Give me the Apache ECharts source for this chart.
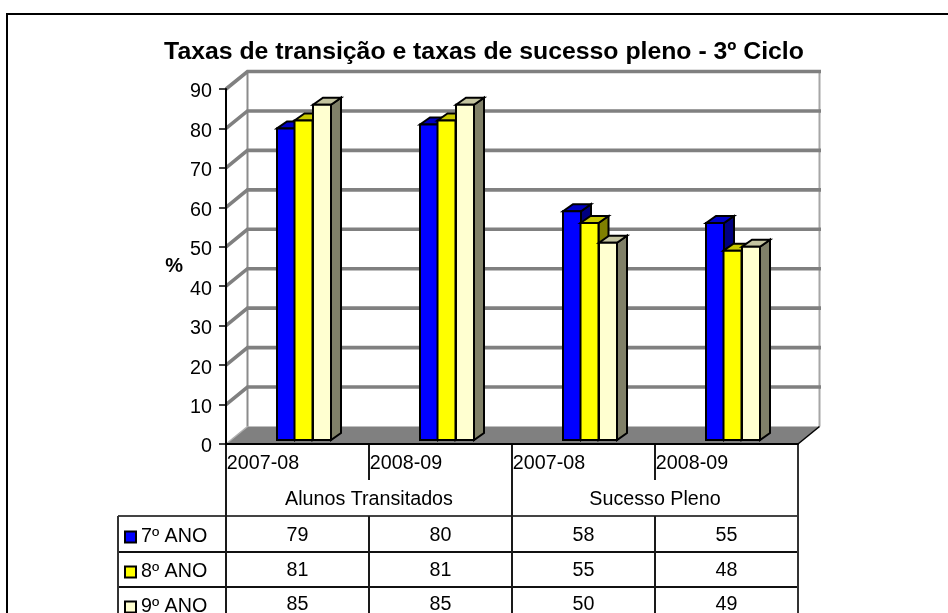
<!DOCTYPE html>
<html>
<head>
<meta charset="utf-8">
<title>Taxas de transição</title>
<script src="https://cdn.jsdelivr.net/npm/echarts@6/dist/echarts.min.js"></script>
<style>
html,body{margin:0;padding:0;background:#fff;}
#main{width:948px;height:613px;}
</style>
</head>
<body>
<div id="main"></div>
<script type="text/javascript">
var categories = ['2007-08', '2008-09', '2007-08', '2008-09'];
var groups = ['Alunos Transitados', 'Sucesso Pleno'];
var serieNames = ['7º ANO', '8º ANO', '9º ANO'];
var ano7 = [79, 80, 58, 55];
var ano8 = [81, 81, 55, 48];
var ano9 = [85, 85, 50, 49];
var yTicks = [0, 10, 20, 30, 40, 50, 60, 70, 80, 90];

var fontName = '"Liberation Sans", Arial, sans-serif';
var textSize = 19.7;
// profundidade da parede e das barras
var wallDx = 21.5, wallDy = -17.5;
var barDx = 10, barDy = -7, barW = 18, planeDx = 0, planeDy = -4;
var barLeft = [-20.5, -3, 15.5];
var barColors = [
	{front: '#0000ff', top: '#0000c4', side: '#000080'},
	{front: '#ffff00', top: '#c8c800', side: '#808000'},
	{front: '#ffffd0', top: '#c4c4a0', side: '#808068'}
];

function toData(arr) {
	return arr.map(function (v, i) { return [i, v]; });
}

function renderWall(params, api) {
	var p = api.coord([0, api.value(1)]);
	var band = api.size([1, 0])[0];
	var x0 = p[0] - band / 2;
	var x1 = x0 + band * categories.length;
	return {
		type: 'polyline',
		shape: {points: [[x0, p[1]], [x0 + wallDx, p[1] + wallDy], [x1 + wallDx + 1.5, p[1] + wallDy]]},
		style: {stroke: '#808080', lineWidth: 3.6, fill: null}
	};
}

function renderFloor(params, api) {
	var p = api.coord([0, 0]);
	var top = api.coord([0, 90]);
	var band = api.size([1, 0])[0];
	var x0 = p[0] - band / 2;
	var x1 = x0 + band * categories.length;
	return {
		type: 'group',
		children: [
			{type: 'polyline', shape: {points: [[x0 + wallDx, top[1] + wallDy], [x0 + wallDx, p[1] + wallDy]]},
				style: {stroke: '#8c8c8c', lineWidth: 2, fill: null}},
			{type: 'polyline', shape: {points: [[x1 + wallDx, top[1] + wallDy], [x1 + wallDx, p[1] + wallDy]]},
				style: {stroke: '#a6a6a6', lineWidth: 2, fill: null}},
			{type: 'polygon', shape: {points: [[x0, p[1]], [x0 + wallDx, p[1] + wallDy], [x1 + wallDx, p[1] + wallDy], [x1, p[1]]]},
				style: {fill: '#808080'}},
			{type: 'polyline', shape: {points: [[x0, p[1]], [x0 + wallDx, p[1] + wallDy]]},
				style: {stroke: '#b0b0b0', lineWidth: 1.5, fill: null}},
			{type: 'polyline', shape: {points: [[x1, p[1]], [x1 + wallDx, p[1] + wallDy]]},
				style: {stroke: '#000', lineWidth: 1.5, fill: null}}
		]
	};
}

function renderBar(serieIndex) {
	return function (params, api) {
		var base = api.coord([api.value(0), 0]);
		var head = api.coord([api.value(0), api.value(1)]);
		var c = barColors[serieIndex];
		var x = base[0] + barLeft[serieIndex] + planeDx;
		var y0 = base[1] + planeDy, y1 = head[1] + planeDy;
		var x2 = x + barW;
		var line = {stroke: '#000', lineWidth: 2, lineJoin: 'miter'};
		return {
			type: 'group',
			children: [
				{type: 'polygon', shape: {points: [[x2, y1], [x2 + barDx, y1 + barDy], [x2 + barDx, y0 + barDy], [x2, y0]]},
					style: echarts.util.extend({fill: c.side}, line)},
				{type: 'polygon', shape: {points: [[x, y1], [x + barDx, y1 + barDy], [x2 + barDx, y1 + barDy], [x2, y1]]},
					style: echarts.util.extend({fill: c.top}, line)},
				{type: 'rect', shape: {x: x, y: y1, width: barW, height: y0 - y1},
					style: echarts.util.extend({fill: c.front}, line)}
			]
		};
	};
}

// tabela de dados por baixo do grafico
var rowLines = [72, 108, 143];
var rowText = [92, 127, 161];
var tableLeft = 118;
var tableBottom = 613;

function renderTable(params, api) {
	var p = api.coord([0, 0]);
	var band = api.size([1, 0])[0];
	var x0 = p[0] - band / 2;
	var y = p[1];
	var kids = [];
	function seg(a, b, c, d, color) {
		kids.push({type: 'line', shape: {x1: a, y1: b, x2: c, y2: d},
			style: {stroke: color || '#1a1a1a', lineWidth: 2}});
	}
	function txt(s, tx, ty) {
		kids.push({type: 'text', style: {text: s, x: tx, y: ty, align: 'center', verticalAlign: 'middle',
			fontFamily: fontName, fontSize: textSize, fill: '#000'}});
	}
	var i;
	for (i = 0; i < rowLines.length; i++) {
		seg(tableLeft, y + rowLines[i], x0 + band * categories.length, y + rowLines[i], i === 0 ? '#444' : '#111');
	}
	seg(tableLeft, y + rowLines[0], tableLeft, tableBottom, '#333');
	seg(x0, y, x0, tableBottom);
	seg(x0 + band * 2, y, x0 + band * 2, tableBottom);
	seg(x0 + band * 4, y, x0 + band * 4, tableBottom, '#333');
	[1, 3].forEach(function (k) {
		seg(x0 + band * k, y, x0 + band * k, y + 36);
		seg(x0 + band * k, y + rowLines[0], x0 + band * k, tableBottom);
	});
	groups.forEach(function (g, k) {
		txt(g, x0 + band * (k * 2 + 1), y + 56);
	});
	[ano7, ano8, ano9].forEach(function (row, r) {
		row.forEach(function (v, k) {
			txt(String(v), x0 + band * (k + 0.5), y + rowText[r]);
		});
	});
	return {type: 'group', children: kids};
}

var series = [
	{type: 'custom', name: 'paredes', z: 1, silent: true, renderItem: renderFloor, data: [[0, 0]], encode: {x: 0, y: 1}},
	{type: 'custom', name: 'grelha', z: 2, silent: true, renderItem: renderWall,
		data: yTicks.slice(1).map(function (t) { return [0, t]; }), encode: {x: 0, y: 1}},
	{type: 'custom', name: 'tabela', z: 3, silent: true, renderItem: renderTable, data: [[0, 0]], encode: {x: 0, y: 1}}
];
[ano7, ano8, ano9].forEach(function (arr, i) {
	series.push({
		type: 'custom',
		name: serieNames[i],
		z: 6 + i,
		renderItem: renderBar(i),
		data: toData(arr),
		encode: {x: 0, y: 1},
		itemStyle: {color: barColors[i].front, borderColor: '#000', borderWidth: 1}
	});
});

var myChart = echarts.init(document.getElementById('main'));
var option = {
	animation: false,
	backgroundColor: '#fff',
	title: {
		text: 'Taxas de transição e taxas de sucesso pleno - 3º Ciclo',
		left: 479,
		top: 35,
		textAlign: 'center',
		textStyle: {fontFamily: fontName, fontSize: 24.8, fontWeight: 'bold', color: '#000'}
	},
	legend: {
		data: serieNames,
		orient: 'vertical',
		left: 124,
		top: 527,
		height: 140,
		padding: 0,
		itemWidth: 11,
		itemHeight: 11,
		itemGap: 15,
		icon: 'rect',
		selectedMode: false,
		textStyle: {fontFamily: fontName, fontSize: textSize, color: '#000'}
	},
	grid: {left: 226, top: 89, width: 572, height: 355},
	xAxis: {
		type: 'category',
		data: categories,
		boundaryGap: true,
		z: 4,
		axisLine: {show: true, lineStyle: {color: '#000', width: 2}},
		axisTick: {show: false},
		axisLabel: {
			interval: 0,
			margin: 10,
			align: 'center',
			padding: [0, 69, 0, 0],
			fontFamily: fontName,
			fontSize: textSize,
			color: '#000'
		}
	},
	yAxis: {
		type: 'value',
		min: 0,
		max: 90,
		interval: 10,
		z: 4,
		name: '%',
		nameLocation: 'middle',
		nameGap: 43,
		nameRotate: 0,
		nameTextStyle: {fontFamily: fontName, fontSize: 20, fontWeight: 'bold', color: '#000'},
		axisLine: {show: true, lineStyle: {color: '#000', width: 2}},
		axisTick: {show: true, length: 7, lineStyle: {color: '#000', width: 1.5}},
		axisLabel: {margin: 14, verticalAlign: 'top', lineHeight: 6, fontFamily: fontName, fontSize: textSize, color: '#000'},
		splitLine: {show: false}
	},
	graphic: [
		{type: 'polyline', silent: true, shape: {points: [[7, 613], [7, 14], [948, 14]]},
			style: {stroke: '#000', lineWidth: 2, fill: null}}
	],
	series: series
};
myChart.setOption(option);
</script>
</body>
</html>
